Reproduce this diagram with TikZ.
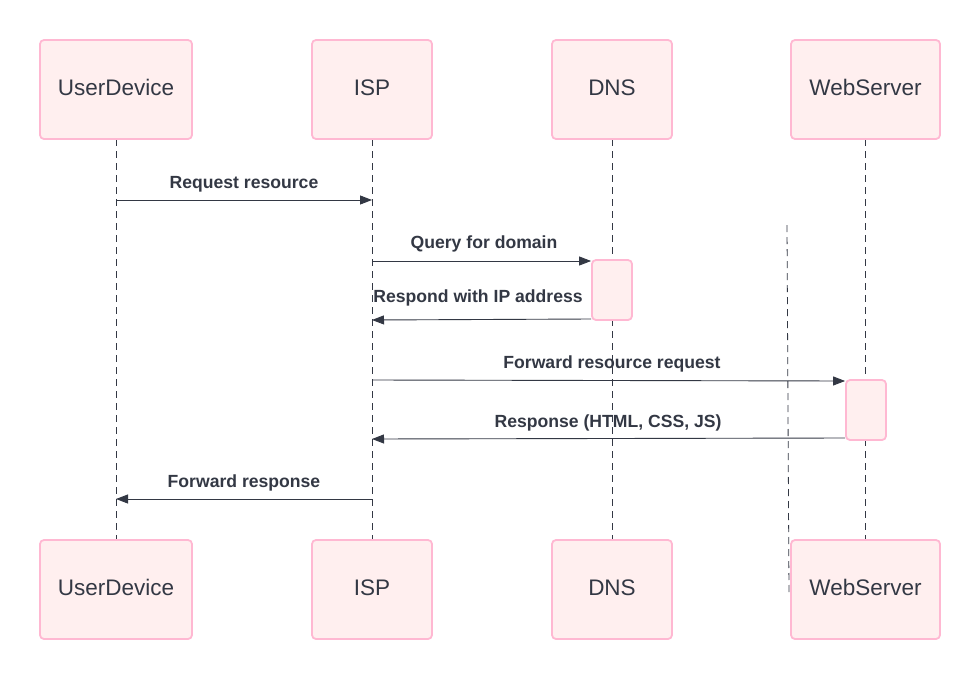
\documentclass[tikz,border=0pt]{standalone}
\usepackage{fontspec}
\setmainfont{Liberation Sans}
\usetikzlibrary{arrows.meta}
\definecolor{boxfill}{HTML}{FFEFEF}
\definecolor{boxline}{HTML}{FFB8D2}
\definecolor{ink}{HTML}{333844}
\definecolor{lifeline}{HTML}{333844}
\tikzset{
  actor/.style={draw=boxline, line width=1.8pt, fill=boxfill, rounded corners=4pt,
    minimum width=#1, minimum height=99pt, inner sep=0pt},
  atext/.style={text=ink, font=\fontsize{22.5}{26}\selectfont, inner sep=0pt},
  act/.style={draw=boxline, line width=1.8pt, fill=boxfill, rounded corners=4pt,
    minimum width=40pt, minimum height=60pt, inner sep=0pt},
  life/.style={draw=lifeline, line width=0.8pt, dash pattern=on 7pt off 5pt},
  msg/.style={draw=ink, line width=0.9pt, -{Triangle[length=12pt,width=9pt]}},
  lbl/.style={text=ink, font=\fontsize{17.6}{20}\selectfont\bfseries, inner sep=0pt}
}
\begin{document}
\begin{tikzpicture}[x=1pt,y=-1pt]
\useasboundingbox[fill=white] (0,0) rectangle (980,680);
% lifelines
\coordinate (u1) at (116,139); \coordinate (u2) at (116,540);
\coordinate (i1) at (372,139); \coordinate (i2) at (372,540);
\coordinate (d1) at (612,139); \coordinate (d2) at (612,540);
\coordinate (w1) at (865,139); \coordinate (w2) at (865,540);
\draw[life] (u1) -- (u2);
\draw[life] (i1) -- (i2);
\draw[life] (d1) -- (d2);
\draw[life] (w1) -- (w2);
\coordinate (s1) at (787,225); \coordinate (s2) at (789,595);
\draw[life, draw=ink] (s1) -- (s2);
% actors
\node[actor=152pt] (ut) at (116,89.5) {};
\node[actor=120pt] (it) at (372,89.5) {};
\node[actor=120pt] (dt) at (612,89.5) {};
\node[actor=149pt] (wt) at (865.5,89.5) {};
\node[actor=152pt] (ub) at (116,589.5) {};
\node[actor=120pt] (ib) at (372,589.5) {};
\node[actor=120pt] (db) at (612,589.5) {};
\node[actor=149pt] (wb) at (865.5,589.5) {};
\foreach \n/\t in {ut/UserDevice,it/ISP,dt/DNS,wt/WebServer,ub/UserDevice,ib/ISP,db/DNS,wb/WebServer}
  \node[atext] (\n-t) at ([yshift=2pt]\n.center) {\t};
% activations
\node[act] (da) at (612,290) {};
\node[act] (wa) at (866,410) {};
% anchor points on lifelines
\coordinate (m1a) at (116,200); \coordinate (m1b) at (372,200);
\coordinate (m2a) at (372,261); \coordinate (m2b) at (da.west |- 0,261);
\coordinate (m3a) at (da.west |- 0,319); \coordinate (m3b) at (372,320);
\coordinate (m4a) at (372,380); \coordinate (m4b) at (wa.west |- 0,381);
\coordinate (m5a) at (wa.west |- 0,438); \coordinate (m5b) at (372,439);
\coordinate (m6a) at (372,499); \coordinate (m6b) at (116,499);
\draw[msg] (m1a) -- (m1b);
\draw[msg] (m2a) -- (m2b);
\draw[msg] (m3a) -- (m3b);
\draw[msg] (m4a) -- (m4b);
\draw[msg] (m5a) -- (m5b);
\draw[msg] (m6a) -- (m6b);
% labels
\node[lbl] (l1) at (244,184) {Request resource};
\node[lbl] (l2) at (484,244) {Query for domain};
\node[lbl] (l3) at (478,298) {Respond with IP address};
\node[lbl] (l4) at (612,364) {Forward resource request};
\node[lbl] (l5) at (608,423) {Response (HTML, CSS, JS)};
\node[lbl] (l6) at (244,483) {Forward response};
\end{tikzpicture}
\end{document}
